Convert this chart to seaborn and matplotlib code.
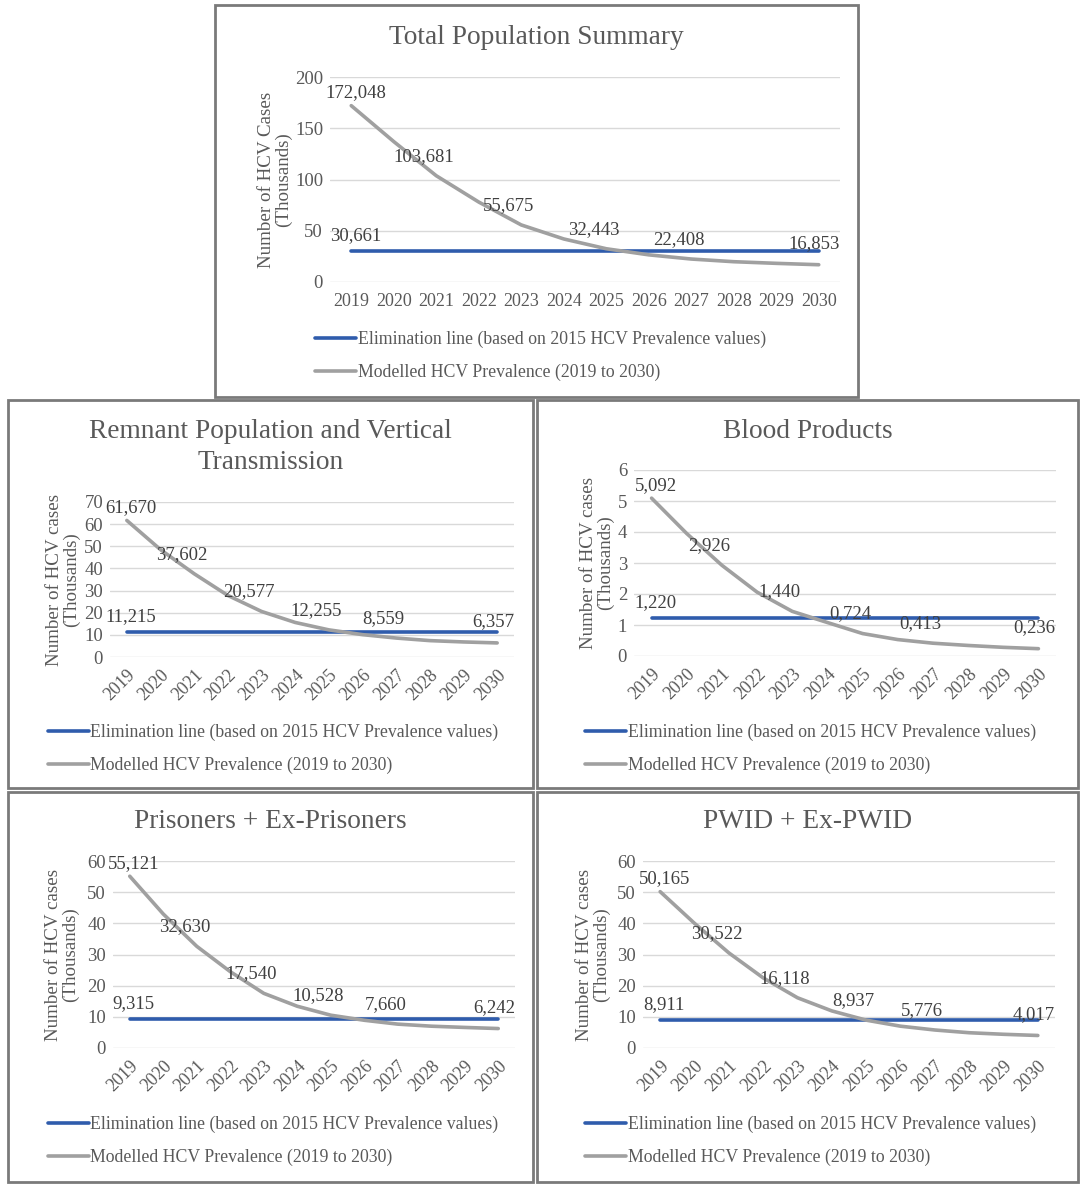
import matplotlib
matplotlib.use("Agg")
import matplotlib.pyplot as plt
from matplotlib.patches import Rectangle
from matplotlib.lines import Line2D
import seaborn as sns
import pandas as pd
import numpy as np

sns.set_theme(style="white")
plt.rcParams['font.family'] = ['Liberation Serif', 'DejaVu Serif']

years = [str(y) for y in range(2019, 2031)]

total_model = [172.048, 137.0, 103.681, 78.0, 55.675, 42.0, 32.443, 26.5, 22.408, 19.8, 18.2, 16.853]
total_elim = 30.661
remnant_model = [61.670, 48.5, 37.602, 27.8, 20.577, 15.6, 12.255, 10.1, 8.559, 7.4, 6.8, 6.357]
remnant_elim = 11.215
blood_model = [5.092, 3.95, 2.926, 2.06, 1.440, 1.08, 0.724, 0.53, 0.413, 0.34, 0.28, 0.236]
blood_elim = 1.220
prison_model = [55.121, 43.0, 32.630, 24.5, 17.540, 13.4, 10.528, 8.9, 7.660, 7.0, 6.6, 6.242]
prison_elim = 9.315
pwid_model = [50.165, 40.0, 30.522, 22.5, 16.118, 11.9, 8.937, 7.0, 5.776, 4.9, 4.4, 4.017]
pwid_elim = 8.911

label_idx = [0, 2, 4, 6, 8, 11]

elim_name = "Elimination line (based on 2015 HCV Prevalence values)"
model_name = "Modelled HCV Prevalence (2019 to 2030)"

W, H = 1084, 1189
fig = plt.figure(figsize=(W / 100, H / 100), dpi=100)

BLUE = "#2f5cac"
GRAY = "#a0a0a0"
TXT = "#595959"
LBL = "#404040"


def px_rect(x0, y0, x1, y1):
    return [x0 / W, 1 - y1 / H, (x1 - x0) / W, (y1 - y0) / H]


panels = [
    dict(title="Total Population Summary", box=(215, 5, 858, 397), ax=(330, 77, 840, 282),
         model=total_model, elim=total_elim, ymax=200, ystep=50, rot=0,
         ylabel="Number of HCV Cases\n(Thousands)", ylab_right=292, title_y=38,
         leg=(315, 356)),
    dict(title="Remnant Population and Vertical\nTransmission", box=(8, 400, 533, 788), ax=(110, 502, 514, 657),
         model=remnant_model, elim=remnant_elim, ymax=70, ystep=10, rot=45,
         ylabel="Number of HCV cases\n(Thousands)", ylab_right=80, title_y=447,
         leg=(48, 749)),
    dict(title="Blood Products", box=(537, 400, 1078, 788), ax=(634, 470, 1056, 656),
         model=blood_model, elim=blood_elim, ymax=6, ystep=1, rot=45,
         ylabel="Number of HCV cases\n(Thousands)", ylab_right=614, title_y=432,
         leg=(585, 749)),
    dict(title="Prisoners + Ex-Prisoners", box=(8, 792, 533, 1182), ax=(113, 861, 515, 1048),
         model=prison_model, elim=prison_elim, ymax=60, ystep=10, rot=45,
         ylabel="Number of HCV cases\n(Thousands)", ylab_right=79, title_y=822,
         leg=(48, 1141)),
    dict(title="PWID + Ex-PWID", box=(537, 792, 1078, 1182), ax=(643, 861, 1055, 1048),
         model=pwid_model, elim=pwid_elim, ymax=60, ystep=10, rot=45,
         ylabel="Number of HCV cases\n(Thousands)", ylab_right=610, title_y=822,
         leg=(585, 1141)),
]

for p in panels:
    bx0, by0, bx1, by1 = p["box"]
    fig.patches.append(Rectangle((bx0 / W, 1 - by1 / H), (bx1 - bx0) / W, (by1 - by0) / H,
                                 transform=fig.transFigure, fill=False,
                                 edgecolor="#7a7a7a", linewidth=2.0, zorder=0))
    ax0, ay0, ax1, ay1 = p["ax"]
    ax = fig.add_axes(px_rect(ax0, ay0, ax1, ay1))
    n = len(years)
    df = pd.DataFrame({
        "x": list(range(n)) * 2,
        "value": [p["elim"]] * n + list(p["model"]),
        "series": [elim_name] * n + [model_name] * n,
    })
    sns.lineplot(data=df, x="x", y="value", hue="series",
                 palette={elim_name: BLUE, model_name: GRAY},
                 linewidth=2.6, ax=ax, legend=False, sort=False)
    ax.set_xlim(-0.5, n - 0.5)
    ax.set_ylim(0, p["ymax"])
    yt = np.arange(0, p["ymax"] + 0.001, p["ystep"])
    ax.set_yticks(yt)
    ax.set_yticklabels([f"{int(v)}" for v in yt], fontsize=13.5, color=TXT)
    ax.set_xticks(range(n))
    if p["rot"]:
        ax.set_xticklabels(years, rotation=45, ha="right", rotation_mode="anchor",
                           fontsize=13, color=TXT)
        ax.tick_params(axis="x", length=0, pad=7)
    else:
        ax.set_xticklabels(years, fontsize=13, color=TXT)
        ax.tick_params(axis="x", length=0, pad=8)
    ax.tick_params(axis="y", length=0, pad=5)
    ax.grid(axis="y", color="#d9d9d9", linewidth=1.0)
    ax.grid(axis="x", visible=False)
    for s in ax.spines.values():
        s.set_visible(False)
    ax.set_xlabel("")
    ax.set_ylabel(p["ylabel"], fontsize=13.7, color=TXT, linespacing=1.0)
    ax.yaxis.set_label_coords(-(ax0 - p["ylab_right"]) / (ax1 - ax0), 0.5)

    # data labels
    for k, i in enumerate(label_idx):
        v = p["model"][i]
        if k == 0:
            off = (3, 3)
        elif k == len(label_idx) - 1:
            off = (-3, 9)
        else:
            off = (-9, 8)
        ax.annotate(f"{v:.3f}".replace(".", ","), (i, v), xytext=off,
                    textcoords="offset points", ha="center", va="bottom",
                    fontsize=13.5, color=LBL)
    ax.annotate(f"{p['elim']:.3f}".replace(".", ","), (0, p["elim"]), xytext=(3, 5),
                textcoords="offset points", ha="center", va="bottom",
                fontsize=13.5, color=LBL)

    # title
    fig.text(((bx0 + bx1) / 2) / W, 1 - p["title_y"] / H, p["title"], ha="center", va="center",
             fontsize=19.7, color=TXT, linespacing=1.3)

    # legend
    handles = [Line2D([], [], color=BLUE, linewidth=2.6),
               Line2D([], [], color=GRAY, linewidth=2.6)]
    lx, ly = p["leg"]
    fig.legend(handles, [elim_name, model_name], loc="center left",
               bbox_to_anchor=(lx / W, 1 - ly / H), frameon=False,
               fontsize=12.75, handlelength=2.3, handletextpad=0.1,
               labelspacing=0.85, borderpad=0, borderaxespad=0,
               labelcolor=TXT)

fig.savefig("out.png", dpi=100, facecolor="white")
